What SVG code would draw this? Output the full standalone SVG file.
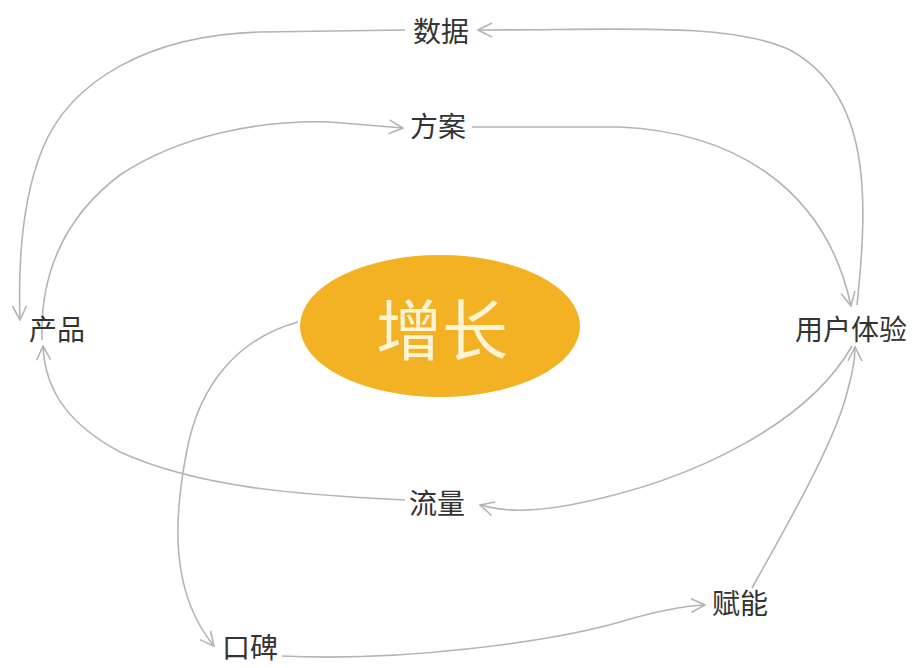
<svg xmlns="http://www.w3.org/2000/svg" width="914" height="668" viewBox="0 0 914 668">
<defs>
<style>
.lbl{font-family:"Noto Sans CJK SC","Noto Sans",sans-serif;font-size:28px;fill:#333;text-anchor:middle;dominant-baseline:central}
.hub{font-family:"Noto Sans CJK SC","Noto Sans",sans-serif;font-size:66px;fill:#FFF4D6;text-anchor:middle;dominant-baseline:central}
.c{fill:none;stroke:#b4b4b4;stroke-width:1.6;marker-end:url(#ah)}
</style>
<marker id="ah" viewBox="0 0 16 16" refX="15" refY="8" markerWidth="16" markerHeight="16" markerUnits="userSpaceOnUse" orient="auto">
<path d="M1,1 L15,8 L1,15" fill="none" stroke="#b4b4b4" stroke-width="1.6"/>
</marker>
</defs>
<rect width="914" height="668" fill="#fff"/>
<g id="connectors">
<path class="c" d="M857,305 C868,200 872,95 790,50 C730,22 620,30 478,30"/>
<path class="c" d="M405,30 L260,32 C150,35 70,80 42,150 C22,200 18,260 20,320"/>
<path class="c" d="M42,340 C40,280 60,220 120,175 C180,135 260,120 330,122 L403,128"/>
<path class="c" d="M472,127 L620,127 C730,132 825,185 851,306"/>
<path class="c" d="M852,346 C810,420 700,480 570,505 C530,512 505,512 480,505"/>
<path class="c" d="M405,500 C300,495 200,488 120,452 C70,425 45,392 43,346"/>
<path class="c" d="M298,322 C240,338 200,382 187,450 C172,525 172,595 214,646"/>
<path class="c" d="M282,656 C400,662 550,642 620,622 C650,613 680,606 705,605"/>
<path class="c" d="M752,588 C790,520 830,450 845,400 C852,375 855,362 855,347"/>
</g>
<g id="node-zengzhang">
<ellipse cx="440" cy="326" rx="140" ry="71" fill="#F3B124"/>
<text class="hub" x="442" y="326">增长</text>
</g>
<g id="node-shuju"><text class="lbl" x="441" y="30">数据</text></g>
<g id="node-fangan"><text class="lbl" x="438" y="125">方案</text></g>
<g id="node-chanpin"><text class="lbl" x="57" y="328">产品</text></g>
<g id="node-yonghutiyan"><text class="lbl" x="851" y="328">用户体验</text></g>
<g id="node-liuliang"><text class="lbl" x="437" y="502">流量</text></g>
<g id="node-koubei"><text class="lbl" x="250" y="646">口碑</text></g>
<g id="node-funeng"><text class="lbl" x="740" y="602">赋能</text></g>
</svg>
